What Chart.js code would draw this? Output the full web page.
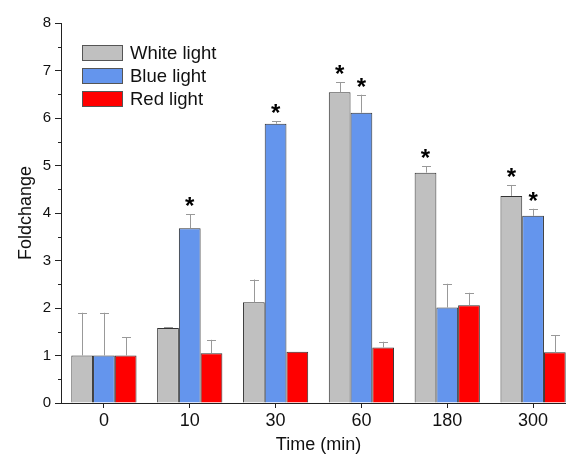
<!DOCTYPE html>
<html>
<head>
<meta charset="utf-8">
<script src="https://cdn.jsdelivr.net/npm/chart.js@4/dist/chart.umd.min.js"></script>
<style>
  html, body { margin: 0; padding: 0; background: #fff; overflow: hidden; }
  #clip { width: 566px; height: 454px; overflow: hidden; }
  #wrap { width: 576px; height: 454px; }
</style>
</head>
<body>
<div id="clip"><div id="wrap"><canvas id="foldChart"></canvas></div></div>
<script>
const times = ['0', '10', '30', '60', '180', '300'];
const seriesNames = ['White light', 'Blue light', 'Red light'];
const seriesColors = ['#c0c0c0', '#6495ed', '#ff0000'];

const white = [1.0, 1.58, 2.12, 6.54, 4.85, 4.36];
const blue = [1.0, 3.68, 5.88, 6.11, 2.01, 3.94];
const red = [1.0, 1.05, 1.08, 1.17, 2.06, 1.07];

// upper error (SD), one-sided
const whiteErr = [0.9, 0.02, 0.48, 0.21, 0.13, 0.23];
const blueErr = [0.9, 0.29, 0.05, 0.38, 0.50, 0.15];
const redErr = [0.38, 0.28, 0.0, 0.12, 0.26, 0.36];

// significance marks (*)
const whiteSig = [false, false, false, true, true, true];
const blueSig = [false, true, true, true, false, true];
const redSig = [false, false, false, false, false, false];

const yTicks = [0, 1, 2, 3, 4, 5, 6, 7, 8];

const values = [white, blue, red];
const errors = [whiteErr, blueErr, redErr];
const sigs = [whiteSig, blueSig, redSig];

const FONT = '"Liberation Sans", Arial, sans-serif';

// error bars, asterisks, minor ticks and the legend box
const extras = {
    id: 'extras',
    afterDatasetsDraw(chart) {
        const ctx = chart.ctx;
        const y = chart.scales.y;
        ctx.save();
        values.forEach((vals, i) => {
            const meta = chart.getDatasetMeta(i);
            meta.data.forEach((bar, j) => {
                const top = y.getPixelForValue(vals[j] + errors[i][j]);
                if (errors[i][j] > 0) {
                    ctx.strokeStyle = '#999';
                    ctx.lineWidth = 1;
                    ctx.beginPath();
                    ctx.moveTo(Math.round(bar.x) + 0.5, bar.y);
                    ctx.lineTo(Math.round(bar.x) + 0.5, top);
                    ctx.moveTo(Math.round(bar.x) - 4, Math.round(top) + 0.5);
                    ctx.lineTo(Math.round(bar.x) + 5, Math.round(top) + 0.5);
                    ctx.stroke();
                }
                if (sigs[i][j]) {
                    ctx.fillStyle = '#000';
                    ctx.font = 'bold 24px ' + FONT;
                    ctx.textAlign = 'center';
                    ctx.textBaseline = 'alphabetic';
                    ctx.fillText('*', bar.x, top);
                }
            });
        });

        // minor ticks on the y axis
        const x0 = chart.scales.x.left;
        ctx.strokeStyle = '#222';
        ctx.lineWidth = 1;
        ctx.beginPath();
        for (let v = 0.5; v < 8; v += 1) {
            const py = Math.round(y.getPixelForValue(v)) + 0.5;
            ctx.moveTo(x0, py);
            ctx.lineTo(x0 - 3, py);
        }
        ctx.stroke();

        // legend
        ctx.font = '18.5px ' + FONT;
        ctx.textAlign = 'left';
        ctx.textBaseline = 'middle';
        seriesNames.forEach((name, i) => {
            const top = 45 + i * 23;
            ctx.fillStyle = seriesColors[i];
            ctx.fillRect(82, top, 41, 16);
            ctx.strokeStyle = '#555';
            ctx.strokeRect(82.5, top + 0.5, 40, 15);
            ctx.fillStyle = '#111';
            ctx.fillText(name, 130, top + 8.5);
        });
        ctx.restore();
    }
};

new Chart(document.getElementById('foldChart'), {
    type: 'bar',
    data: {
        labels: times,
        datasets: seriesNames.map((name, i) => ({
            label: name,
            data: values[i],
            backgroundColor: seriesColors[i],
            borderColor: '#333',
            borderWidth: 1,
            borderSkipped: 'bottom',
            barPercentage: 1.0,
            categoryPercentage: 0.76
        }))
    },
    options: {
        responsive: true,
        maintainAspectRatio: false,
        animation: false,
        layout: { padding: { top: 23, right: 0, left: 0, bottom: 0 } },
        plugins: {
            legend: { display: false },
            tooltip: { enabled: false }
        },
        scales: {
            x: {
                afterFit: s => { s.height = 51; },
                grid: {
                    offset: false,
                    drawOnChartArea: false,
                    tickLength: 5,
                    color: '#222'
                },
                border: { color: '#222', width: 1 },
                ticks: { color: '#111', font: { family: FONT, size: 18 }, padding: 2 },
                title: {
                    display: true,
                    text: 'Time (min)',
                    color: '#111',
                    font: { family: FONT, size: 18 },
                    padding: { top: 0, bottom: -2 }
                }
            },
            y: {
                min: 0,
                max: 8,
                afterFit: s => { s.width = 61; },
                afterBuildTicks: s => { s.ticks = yTicks.map(v => ({ value: v })); },
                grid: {
                    drawOnChartArea: false,
                    tickLength: 6,
                    color: '#222'
                },
                border: { color: '#222', width: 1 },
                ticks: { color: '#111', font: { family: FONT, size: 15 }, padding: 4 },
                title: {
                    display: true,
                    text: 'Foldchange',
                    color: '#111',
                    font: { family: FONT, size: 18 },
                    padding: { top: 15, bottom: 0 }
                }
            }
        }
    },
    plugins: [extras]
});
</script>
</body>
</html>
